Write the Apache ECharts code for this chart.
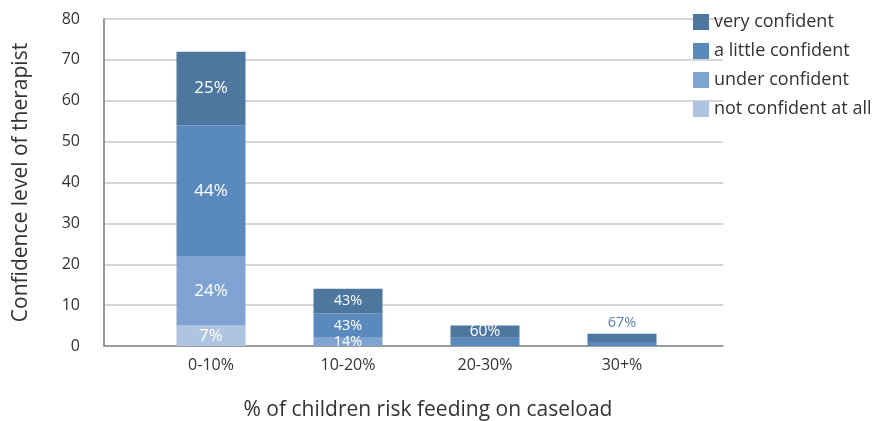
<!DOCTYPE html>
<html>
<head>
<meta charset="utf-8">
<script src="https://cdn.jsdelivr.net/npm/echarts@6/dist/echarts.min.js"></script>
<style>
html, body { margin: 0; padding: 0; background: #fff; }
#chart { width: 878px; height: 421px; }
</style>
</head>
<body>
<div id="chart"></div>
<script>
// categories and counts, stacked bottom to top
var categories = ['0-10%', '10-20%', '20-30%', '30+%'];
var notConfident = [5, 0, 0, 0];
var underConfident = [17, 2, 0, 0];
var littleConfident = [32, 6, 2, 1];
var veryConfident = [18, 6, 3, 2];

// percentage labels shown in the bars
var notLabels = ['7%', '', '', ''];
var underLabels = ['24%', '14%', '', ''];
var littleLabels = ['44%', '43%', '', ''];
var veryLabels = ['25%', '43%', '60%', '67%'];

var yTicks = [0, 80, 10];
var labelSizes = [17, 14.5, 15.5, 14.5];

var colors = {
    very: '#4e77a0',
    little: '#5a8abd',
    under: '#7fa4d3',
    not: '#aec4e0'
};

var fontName = 'Open Sans';

function buildData(values, labels, onTop) {
    var out = [];
    for (var i = 0; i < values.length; i++) {
        var o = { value: values[i] };
        if (labels[i] !== '') {
            o.label = {
                show: true,
                formatter: labels[i],
                fontSize: labelSizes[i],
                color: '#fff',
                fontFamily: fontName
            };
            if (onTop && i == 3) {
                o.label.position = 'top';
                o.label.color = '#5b80ad';
                o.label.distance = 3;
            } else {
                o.label.position = 'inside';
            }
        }
        out.push(o);
    }
    return out;
}

function makeSeries(name, values, labels, color, onTop) {
    return {
        name: name,
        type: 'bar',
        stack: 'total',
        xAxisIndex: 1,
        yAxisIndex: 1,
        barWidth: 69,
        itemStyle: { color: color },
        data: buildData(values, labels, onTop)
    };
}

var myChart = echarts.init(document.getElementById('chart'));

var option = {
    animation: false,
    textStyle: { fontFamily: fontName },
    legend: {
        orient: 'vertical',
        left: 688,
        top: 8,
        itemWidth: 16,
        itemHeight: 16,
        itemGap: 11,
        icon: 'rect',
        padding: 5,
        textStyle: { fontSize: 18, color: '#333', fontFamily: fontName },
        data: ['very confident', 'a little confident', 'under confident', 'not confident at all']
    },
    grid: [
        { left: 104, right: 155, top: 19, bottom: 75 },
        { left: 142.5, right: 187.5, top: 19, bottom: 75 }
    ],
    xAxis: [
        {
            gridIndex: 0,
            type: 'value',
            min: 0,
            max: 1,
            axisLine: { show: true, lineStyle: { color: '#888', width: 1.5 } },
            axisTick: { show: false },
            axisLabel: { show: false },
            splitLine: { show: false }
        },
        {
            gridIndex: 1,
            type: 'category',
            data: categories,
            axisLine: { show: false },
            axisTick: { show: false },
            axisLabel: { fontSize: 16, color: '#333', margin: 11, fontFamily: fontName }
        }
    ],
    yAxis: [
        {
            gridIndex: 0,
            type: 'value',
            min: yTicks[0],
            max: yTicks[1],
            interval: yTicks[2],
            name: 'Confidence level of therapist',
            nameLocation: 'middle',
            nameGap: 72,
            nameTextStyle: { fontSize: 21, color: '#333', fontFamily: fontName },
            axisLine: { show: true, lineStyle: { color: '#777', width: 1.5 } },
            axisTick: { show: false },
            axisLabel: { fontSize: 16, color: '#333', margin: 24, fontFamily: fontName },
            splitLine: { lineStyle: { color: '#c8c8c8', width: 1.5 } }
        },
        {
            gridIndex: 1,
            type: 'value',
            min: yTicks[0],
            max: yTicks[1],
            interval: yTicks[2],
            show: false,
            splitLine: { show: false }
        }
    ],
    graphic: [
        {
            type: 'text',
            x: 428,
            y: 410,
            style: {
                text: '% of children risk feeding on caseload',
                fontSize: 21,
                fill: '#333',
                fontFamily: fontName,
                textAlign: 'center',
                textVerticalAlign: 'middle'
            }
        }
    ],
    series: [
        makeSeries('not confident at all', notConfident, notLabels, colors.not, false),
        makeSeries('under confident', underConfident, underLabels, colors.under, false),
        makeSeries('a little confident', littleConfident, littleLabels, colors.little, false),
        makeSeries('very confident', veryConfident, veryLabels, colors.very, true)
    ]
};

myChart.setOption(option);
</script>
</body>
</html>
